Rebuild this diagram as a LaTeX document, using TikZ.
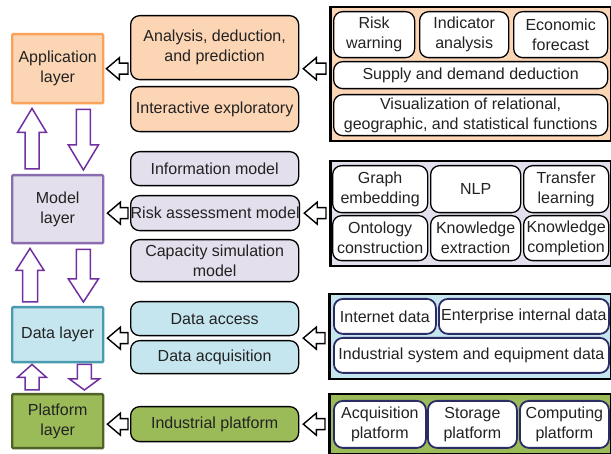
\documentclass[tikz,border=0pt]{standalone}
\usepackage{fontspec}
\setmainfont{Liberation Sans}
\usetikzlibrary{calc}
\definecolor{appfill}{HTML}{FCD5B5}
\definecolor{appline}{HTML}{F9A25A}
\definecolor{modfill}{HTML}{E4DFEC}
\definecolor{modline}{HTML}{8A6DB0}
\definecolor{datfill}{HTML}{C6E6EF}
\definecolor{datline}{HTML}{4A9AB0}
\definecolor{platfill}{HTML}{9BBB59}
\definecolor{platline}{HTML}{4F6228}
\definecolor{arrpurple}{HTML}{7030A0}
\definecolor{navy}{HTML}{2B2B66}
\definecolor{txtc}{HTML}{222222}
\newcommand{\blockarr}[6]{%
  \coordinate (bA) at #2;
  \coordinate (bB) at #3;
  \coordinate (bH) at ($(bB)!#6!(bA)$);
  \draw[#1] ($(bA)!#4!90:(bB)$) -- ($(bH)!#4!90:(bB)$) -- ($(bH)!#5!90:(bB)$)
    -- (bB) -- ($(bH)!#5!-90:(bB)$) -- ($(bH)!#4!-90:(bB)$) -- ($(bA)!#4!-90:(bB)$) -- cycle;
}
\tikzset{
  txt/.style={font=\fontsize{16}{20}\selectfont, text=txtc, align=center, inner sep=0pt, anchor=north west},
  layer/.style={txt, line width=2.4pt, rounded corners=1pt},
  mid/.style={txt, draw=black, line width=1.3pt, rounded corners=9pt},
  panel/.style={draw=black, line width=2.5pt, anchor=north west, inner sep=0pt},
  inbox/.style={txt, draw=black, line width=1.3pt, rounded corners=9pt, fill=white},
  nbox/.style={txt, draw=navy, line width=1.8pt, rounded corners=9pt, fill=white},
  harr/.style={draw=black, line width=1.4pt, fill=white},
  varr/.style={draw=arrpurple, line width=1.5pt, fill=white},
}
\begin{document}
\begin{tikzpicture}[x=1pt,y=-1pt]
\useasboundingbox (0,0) rectangle (611,454);
% layers
\node[layer, draw=appline, fill=appfill, minimum width=91, minimum height=69] (app) at (11,33) {Application\\layer};
\node[layer, draw=modline, fill=modfill, minimum width=91, minimum height=68] (model) at (11,174) {Model\\layer};
\node[layer, draw=datline, fill=datfill, minimum width=91, minimum height=55] (data) at (11,306) {Data layer};
\node[layer, draw=platline, fill=platfill, minimum width=91, minimum height=54] (plat) at (11,393) {Platform\\layer};
% middle boxes
\node[mid, fill=appfill, minimum width=168, minimum height=64] (ana) at (130,15) {Analysis, deduction,\\and prediction};
\node[mid, fill=appfill, minimum width=168, minimum height=45] (inter) at (130,86) {Interactive exploratory};
\node[mid, fill=modfill, minimum width=168, minimum height=34] (info) at (130,151) {Information model};
\node[mid, fill=modfill, minimum width=168, minimum height=35] (risk) at (130,195) {Risk assessment model};
\node[mid, fill=modfill, minimum width=168, minimum height=42] (cap) at (130,239) {Capacity simulation\\model};
\node[mid, fill=datfill, minimum width=168, minimum height=34] (acc) at (130,301) {Data access};
\node[mid, fill=datfill, minimum width=168, minimum height=33] (acq) at (130,340) {Data acquisition};
\node[mid, fill=platfill, minimum width=168, minimum height=35] (ind) at (130,406) {Industrial platform};
% panels
\node[panel, fill=appfill, minimum width=281, minimum height=134] (papp) at (329,6) {};
\node[panel, fill=modfill, minimum width=281, minimum height=105] (pmod) at (329,160) {};
\node[panel, fill=datfill, minimum width=282, minimum height=85] (pdat) at (328,293) {};
\node[panel, fill=platfill, minimum width=282, minimum height=60] (pplat) at (328,393) {};
% application panel
\node[inbox, minimum width=81, minimum height=46] (rw) at (333,11) {Risk\\warning};
\node[inbox, minimum width=89, minimum height=46] (ia) at (419,11) {Indicator\\analysis};
\node[inbox, minimum width=94, minimum height=46] (ef) at (513,11) {Economic\\forecast};
\node[inbox, minimum width=274, minimum height=27] (sd) at (333,61) {Supply and demand deduction};
\node[inbox, minimum width=274, minimum height=41] (vis) at (333,94) {Visualization of relational,\\geographic, and statistical functions};
% model panel
\node[inbox, minimum width=95, minimum height=47] (ge) at (332,165) {Graph\\embedding};
\node[inbox, minimum width=90, minimum height=47] (nlp) at (430,165) {NLP};
\node[inbox, minimum width=85, minimum height=47] (tl) at (523,165) {Transfer\\learning};
\node[inbox, minimum width=95, minimum height=45] (oc) at (332,215) {Ontology\\construction};
\node[inbox, minimum width=90, minimum height=45] (ke) at (430,215) {Knowledge\\extraction};
\node[inbox, minimum width=85, minimum height=45] (kc) at (523,215) {Knowledge\\completion};
% data panel
\node[nbox, minimum width=102, minimum height=35] (idat) at (333,298) {Internet data};
\node[nbox, minimum width=170, minimum height=35] (eid) at (438,298) {Enterprise internal data};
\node[nbox, minimum width=275, minimum height=35] (isd) at (333,337) {Industrial system and equipment data};
% platform panel
\node[nbox, minimum width=92, minimum height=47] (ap) at (333,400) {Acquisition\\platform};
\node[nbox, minimum width=89, minimum height=47] (sp) at (427,400) {Storage\\platform};
\node[nbox, minimum width=89, minimum height=47] (cp) at (519,400) {Computing\\platform};
% horizontal arrows: middle -> layer
\blockarr{harr}{($(ana.west |- app.east)+(-2,0)$)}{($(app.east)+(2,0)$)}{5.5pt}{11pt}{13pt}
\blockarr{harr}{($(risk.west)+(-2,0)$)}{($(risk.west -| model.east)+(3,0)$)}{5.5pt}{11pt}{13pt}
\coordinate (dmid) at ($(acc.south west)!0.5!(acq.north west)$);
\blockarr{harr}{($(dmid)+(-2,0)$)}{($(dmid -| data.east)+(3,0)$)}{5.5pt}{11pt}{13pt}
\blockarr{harr}{($(ind.west)+(-2,0)$)}{($(ind.west -| plat.east)+(3,0)$)}{5.5pt}{11pt}{13pt}
% horizontal arrows: panel -> middle
\blockarr{harr}{($(papp.west |- app.east)+(-3,0)$)}{($(ana.east |- app.east)+(4,0)$)}{5.5pt}{11pt}{13pt}
\blockarr{harr}{($(risk.east -| pmod.west)+(-3,0)$)}{($(risk.east)+(4,0)$)}{5.5pt}{11pt}{13pt}
\coordinate (dmidr) at ($(acc.south east)!0.5!(acq.north east)$);
\blockarr{harr}{($(dmidr -| pdat.west)+(-3,0)$)}{($(dmidr)+(4,0)$)}{5.5pt}{11pt}{13pt}
\blockarr{harr}{($(ind.east -| pplat.west)+(-3,0)$)}{($(ind.east)+(4,0)$)}{5.5pt}{11pt}{13pt}
% vertical arrows
\blockarr{varr}{($(model.north west)+(21,-5)$)}{($(app.south west)+(21,4)$)}{7pt}{14.5pt}{24pt}
\blockarr{varr}{($(app.south east)+(-21,5)$)}{($(model.north east)+(-21,-4)$)}{7pt}{15pt}{25pt}
\blockarr{varr}{($(data.north west)+(19,-4)$)}{($(model.south west)+(19,4)$)}{7.5pt}{14pt}{22pt}
\blockarr{varr}{($(model.south east)+(-21,5)$)}{($(data.north east)+(-21,-4)$)}{7pt}{15pt}{23pt}
\blockarr{varr}{($(plat.north west)+(21,-3)$)}{($(data.south west)+(21,1)$)}{7pt}{14.5pt}{13pt}
\blockarr{varr}{($(data.south east)+(-20,1)$)}{($(plat.north east)+(-20,-3)$)}{7pt}{15pt}{11pt}
\end{tikzpicture}
\end{document}
